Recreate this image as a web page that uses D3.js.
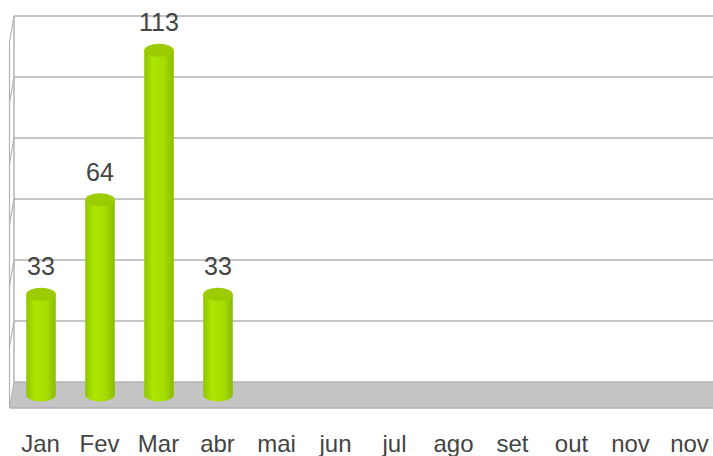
<!DOCTYPE html>
<html>
<head>
<meta charset="utf-8">
<script src="https://cdn.jsdelivr.net/npm/d3@7"></script>
<style>
  html, body { margin: 0; padding: 0; background: #fff; }
  svg { display: block; }
  svg text { font-family: "Liberation Sans", Arial, sans-serif; }
</style>
</head>
<body>
<svg id="chart" width="713" height="456"></svg>
<script>
var months = ['Jan', 'Fev', 'Mar', 'abr', 'mai', 'jun', 'jul', 'ago', 'set', 'out', 'nov', 'nov']
var values = [33, 64, 113, 33]
var gridTicks = [0, 20, 40, 60, 80, 100, 120]

var svg = d3.select('#chart'),
  width = 713,
  wallLeft = 14,
  wallTop = 16,
  floorBack = 382,
  depthX = -4.5,
  depthY = 26

var x = d3
  .scaleBand()
  .domain(d3.range(months.length))
  .range([11, 719])
  .paddingInner(0.5)
  .paddingOuter(0.25)

var y = d3.scaleLinear().domain([0, 120]).range([floorBack, wallTop])

// floor
svg
  .append('path')
  .attr(
    'd',
    'M' + wallLeft + ',' + floorBack +
      'L' + width + ',' + floorBack +
      'L' + width + ',' + (floorBack + depthY) +
      'L' + (wallLeft + depthX) + ',' + (floorBack + depthY) + 'Z'
  )
  .attr('fill', '#c4c4c4')
svg
  .append('line')
  .attr('x1', wallLeft + depthX)
  .attr('x2', width)
  .attr('y1', floorBack + depthY)
  .attr('y2', floorBack + depthY)
  .attr('stroke', '#b0b0b0')
  .attr('stroke-width', 1.5)

// back wall grid
var grid = svg.append('g').attr('class', 'grid')
grid
  .selectAll('line.h')
  .data(gridTicks)
  .enter()
  .append('line')
  .attr('class', 'h')
  .attr('x1', wallLeft)
  .attr('x2', width)
  .attr('y1', y)
  .attr('y2', y)
  .attr('stroke', '#b3b3b3')
  .attr('stroke-width', 1.5)
// side wall diagonals
grid
  .selectAll('line.d')
  .data(gridTicks)
  .enter()
  .append('line')
  .attr('class', 'd')
  .attr('x1', wallLeft)
  .attr('x2', wallLeft + depthX)
  .attr('y1', y)
  .attr('y2', function(d) {
    return y(d) + depthY
  })
  .attr('stroke', '#b3b3b3')
  .attr('stroke-width', 1.2)
grid
  .append('line')
  .attr('x1', wallLeft)
  .attr('x2', wallLeft)
  .attr('y1', y(120))
  .attr('y2', y(0))
  .attr('stroke', '#b3b3b3')
  .attr('stroke-width', 1.5)
grid
  .append('line')
  .attr('x1', wallLeft + depthX)
  .attr('x2', wallLeft + depthX)
  .attr('y1', y(120) + depthY)
  .attr('y2', y(0) + depthY)
  .attr('stroke', '#b3b3b3')
  .attr('stroke-width', 1.2)

// cylinder gradient
var defs = svg.append('defs')
var grad = defs
  .append('linearGradient')
  .attr('id', 'cyl')
  .attr('x1', '0%')
  .attr('x2', '100%')
grad.append('stop').attr('offset', '0%').attr('stop-color', '#8fc400')
grad.append('stop').attr('offset', '30%').attr('stop-color', '#ade600')
grad.append('stop').attr('offset', '70%').attr('stop-color', '#a4dc00')
grad.append('stop').attr('offset', '100%').attr('stop-color', '#89bc00')

// bars sit at middle depth
var offX = 0.5,
  offY = depthY / 2,
  ry = 6.5

function barTop(d) {
  return y(d) + offY
}

var bars = svg
  .append('g')
  .attr('class', 'bars')
  .selectAll('g')
  .data(values)
  .enter()
  .append('g')

bars
  .append('path')
  .attr('fill', 'url(#cyl)')
  .attr('d', function(d, i) {
    var x0 = x(i) + offX,
      x1 = x0 + x.bandwidth(),
      rx = x.bandwidth() / 2,
      yt = barTop(d),
      yb = barTop(0)
    return (
      'M' + x0 + ',' + yt +
      'L' + x0 + ',' + yb +
      'A' + rx + ',' + ry + ' 0 0 0 ' + x1 + ',' + yb +
      'L' + x1 + ',' + yt + 'Z'
    )
  })
bars
  .append('ellipse')
  .attr('cx', function(d, i) {
    return x(i) + offX + x.bandwidth() / 2
  })
  .attr('cy', barTop)
  .attr('rx', x.bandwidth() / 2)
  .attr('ry', ry)
  .attr('fill', '#9ccb00')

// value labels
bars
  .append('text')
  .attr('x', function(d, i) {
    return x(i) + offX + x.bandwidth() / 2
  })
  .attr('y', function(d) {
    return barTop(d) - 19
  })
  .attr('text-anchor', 'middle')
  .attr('font-size', 25)
  .attr('fill', '#444')
  .text(function(d) {
    return d
  })

// category axis
var xAxis = d3
  .axisBottom(x)
  .tickSize(0)
  .tickPadding(0)
  .tickFormat(function(i) {
    return months[i]
  })
var axisG = svg
  .append('g')
  .attr('transform', 'translate(0,452)')
  .call(xAxis)
axisG.attr('font-family', null).attr('font-size', null)
axisG.select('.domain').remove()
axisG
  .selectAll('text')
  .attr('dy', 0)
  .attr('font-size', 24)
  .attr('fill', '#444')
</script>
</body>
</html>
